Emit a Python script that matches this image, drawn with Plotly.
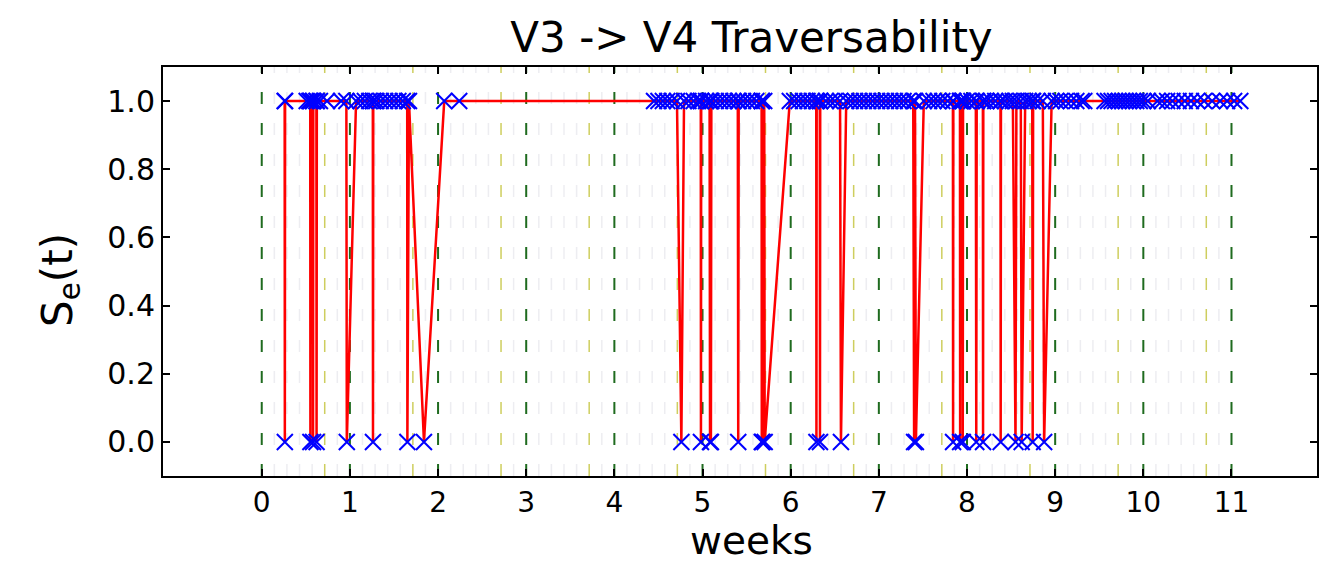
import plotly.graph_objects as go

# time (weeks) and traversability state S_e(t)
t_weeks = [
    0.26, 0.262, 0.265,
    0.51, 0.54, 0.55, 0.552, 0.555, 0.58, 0.582, 0.585, 0.62, 0.622, 0.625, 0.66, 0.74,
    0.90, 0.96, 0.965, 1.07, 1.12, 1.17, 1.22, 1.26, 1.262, 1.265, 1.30, 1.35, 1.40,
    1.45, 1.50, 1.55, 1.60, 1.65, 1.652, 1.67, 1.84, 2.07, 2.24,
    4.45, 4.50, 4.55, 4.60, 4.65, 4.71, 4.76, 4.79, 4.84, 4.90, 4.95, 4.98, 4.982,
    4.985, 5.04, 5.08, 5.085, 5.09, 5.095, 5.10, 5.15, 5.20, 5.25, 5.30, 5.35, 5.40,
    5.405, 5.41, 5.46, 5.51, 5.56, 5.61, 5.67, 5.672, 5.675, 5.68, 5.70, 5.705,
    5.99, 6.04, 6.09, 6.14, 6.19, 6.24, 6.29, 6.292, 6.295, 6.33, 6.332, 6.335, 6.40,
    6.45, 6.50, 6.56, 6.57, 6.63, 6.68, 6.73, 6.78, 6.83, 6.88, 6.93, 6.98, 7.03, 7.08,
    7.13, 7.18, 7.23, 7.28, 7.33, 7.39, 7.40, 7.41, 7.42, 7.51, 7.57, 7.62, 7.67, 7.72,
    7.78, 7.84, 7.842, 7.845, 7.92, 7.922, 7.925, 7.95, 7.952, 7.955,
    8.00, 8.05, 8.10, 8.105, 8.11, 8.18, 8.182, 8.185, 8.22, 8.27, 8.32, 8.38, 8.382,
    8.385, 8.43, 8.48, 8.52, 8.55, 8.56, 8.61, 8.62, 8.66, 8.70, 8.74, 8.745, 8.75,
    8.80, 8.86, 8.875, 8.96, 9.01, 9.06, 9.12, 9.18, 9.24, 9.30, 9.33,
    9.56, 9.60, 9.64, 9.68, 9.72, 9.76, 9.80, 9.84, 9.88, 9.92, 9.96, 10.00, 10.05,
    10.16, 10.21, 10.27, 10.33, 10.40, 10.47, 10.54, 10.61,
    10.69, 10.78, 10.87, 10.95, 11.03, 11.10,
]
s_state = [
    1, 0, 1,
    1, 1, 1, 0, 1, 1, 0, 1, 1, 0, 1, 1, 1,
    1, 1, 0, 1, 1, 1, 1, 1, 0, 1, 1, 1, 1,
    1, 1, 1, 1, 1, 0, 1, 0, 1, 1,
    1, 1, 1, 1, 1, 1, 0, 1, 1, 1, 1, 1, 0,
    1, 1, 1, 0, 1, 0, 1, 1, 1, 1, 1, 1, 1,
    0, 1, 1, 1, 1, 1, 1, 0, 1, 0, 1, 0,
    1, 1, 1, 1, 1, 1, 1, 0, 1, 1, 0, 1, 1,
    1, 1, 1, 0, 1, 1, 1, 1, 1, 1, 1, 1, 1, 1,
    1, 1, 1, 1, 1, 1, 0, 1, 0, 1, 1, 1, 1, 1,
    1, 1, 0, 1, 1, 0, 1, 1, 0, 1,
    1, 1, 1, 0, 1, 1, 0, 1, 1, 1, 1, 1, 0,
    1, 1, 1, 1, 0, 1, 1, 0, 1, 1, 1, 0, 1,
    1, 1, 0, 1, 1, 1, 1, 1, 1, 1, 1,
    1, 1, 1, 1, 1, 1, 1, 1, 1, 1, 1, 1, 1,
    1, 1, 1, 1, 1, 1, 1, 1,
    1, 1, 1, 1, 1, 1,
]

# reference lines (days)
week_start_days = [0, 7, 14, 21, 28, 35, 42, 49, 56, 63, 70, 77]
weekend_days = [5, 12, 19, 26, 33, 40, 47, 54, 61, 68, 75]
all_days = list(range(0, 78))

x_ticks = [0, 1, 2, 3, 4, 5, 6, 7, 8, 9, 10, 11]
y_ticks = [0.0, 0.2, 0.4, 0.6, 0.8, 1.0]

Y_LO, Y_HI = -0.1, 1.1


def vlines(days):
    xs, ys = [], []
    for d in days:
        xs += [d / 7.0, d / 7.0, None]
        ys += [Y_LO, Y_HI, None]
    return xs, ys


fig = go.Figure()

other_days = [d for d in all_days if d not in week_start_days and d not in weekend_days]
for days, color, width in [
    (other_days, "rgba(210,210,220,0.4)", 1.5),
    (weekend_days, "rgba(190,190,40,0.75)", 1.5),
    (week_start_days, "#1f6b1f", 2),
]:
    xs, ys = vlines(days)
    fig.add_trace(go.Scatter(
        x=xs, y=ys, mode="lines", hoverinfo="skip", showlegend=False,
        line=dict(color=color, width=width, dash="12px,19px"),
    ))

fig.add_trace(go.Scatter(
    x=t_weeks, y=s_state, mode="lines", showlegend=False,
    line=dict(color="#ff0000", width=2.5),
))
fig.add_trace(go.Scatter(
    x=t_weeks, y=s_state, mode="markers", showlegend=False,
    marker=dict(symbol="x-thin", size=16, color="#0000ff",
                line=dict(color="#0000ff", width=2)),
))

font_family = "DejaVu Sans"
fig.update_layout(
    width=1320, height=566,
    margin=dict(l=163, r=1, t=67, b=90),
    paper_bgcolor="white", plot_bgcolor="white",
    font=dict(family=font_family, color="black"),
    title=dict(text="V3 -> V4 Traversability", x=0.51, xref="paper", xanchor="center",
               y=1 - 37 / 566, yref="container", yanchor="middle",
               font=dict(size=42, family=font_family, color="black")),
    annotations=[
        dict(text="weeks", xref="paper", yref="paper", x=0.51, y=-0.158,
             xanchor="center", yanchor="middle", showarrow=False, borderpad=0,
             font=dict(size=39, family=font_family, color="black")),
        dict(text="S<sub>e</sub>(t)", xref="paper", yref="paper", x=-0.089, y=0.48,
             xanchor="center", yanchor="middle", showarrow=False, textangle=-90,
             font=dict(size=42, family=font_family, color="black")),
    ],
)
fig.update_xaxes(
    range=[-1.12, 11.97], tickvals=x_ticks, ticktext=[str(v) for v in x_ticks],
    ticks="inside", ticklen=7, tickwidth=1.5, tickcolor="black",
    mirror="allticks", showline=True, linecolor="black", linewidth=2,
    showgrid=False, zeroline=False,
    tickfont=dict(size=28, family=font_family, color="black"),
)
fig.update_yaxes(
    range=[Y_LO, Y_HI], tickvals=y_ticks, tickformat=".1f",
    ticks="inside", ticklen=7, tickwidth=1.5, tickcolor="black",
    mirror="allticks", showline=True, linecolor="black", linewidth=2,
    showgrid=False, zeroline=False,
    tickfont=dict(size=30, family=font_family, color="black"),
)

fig.write_html("out.html")
